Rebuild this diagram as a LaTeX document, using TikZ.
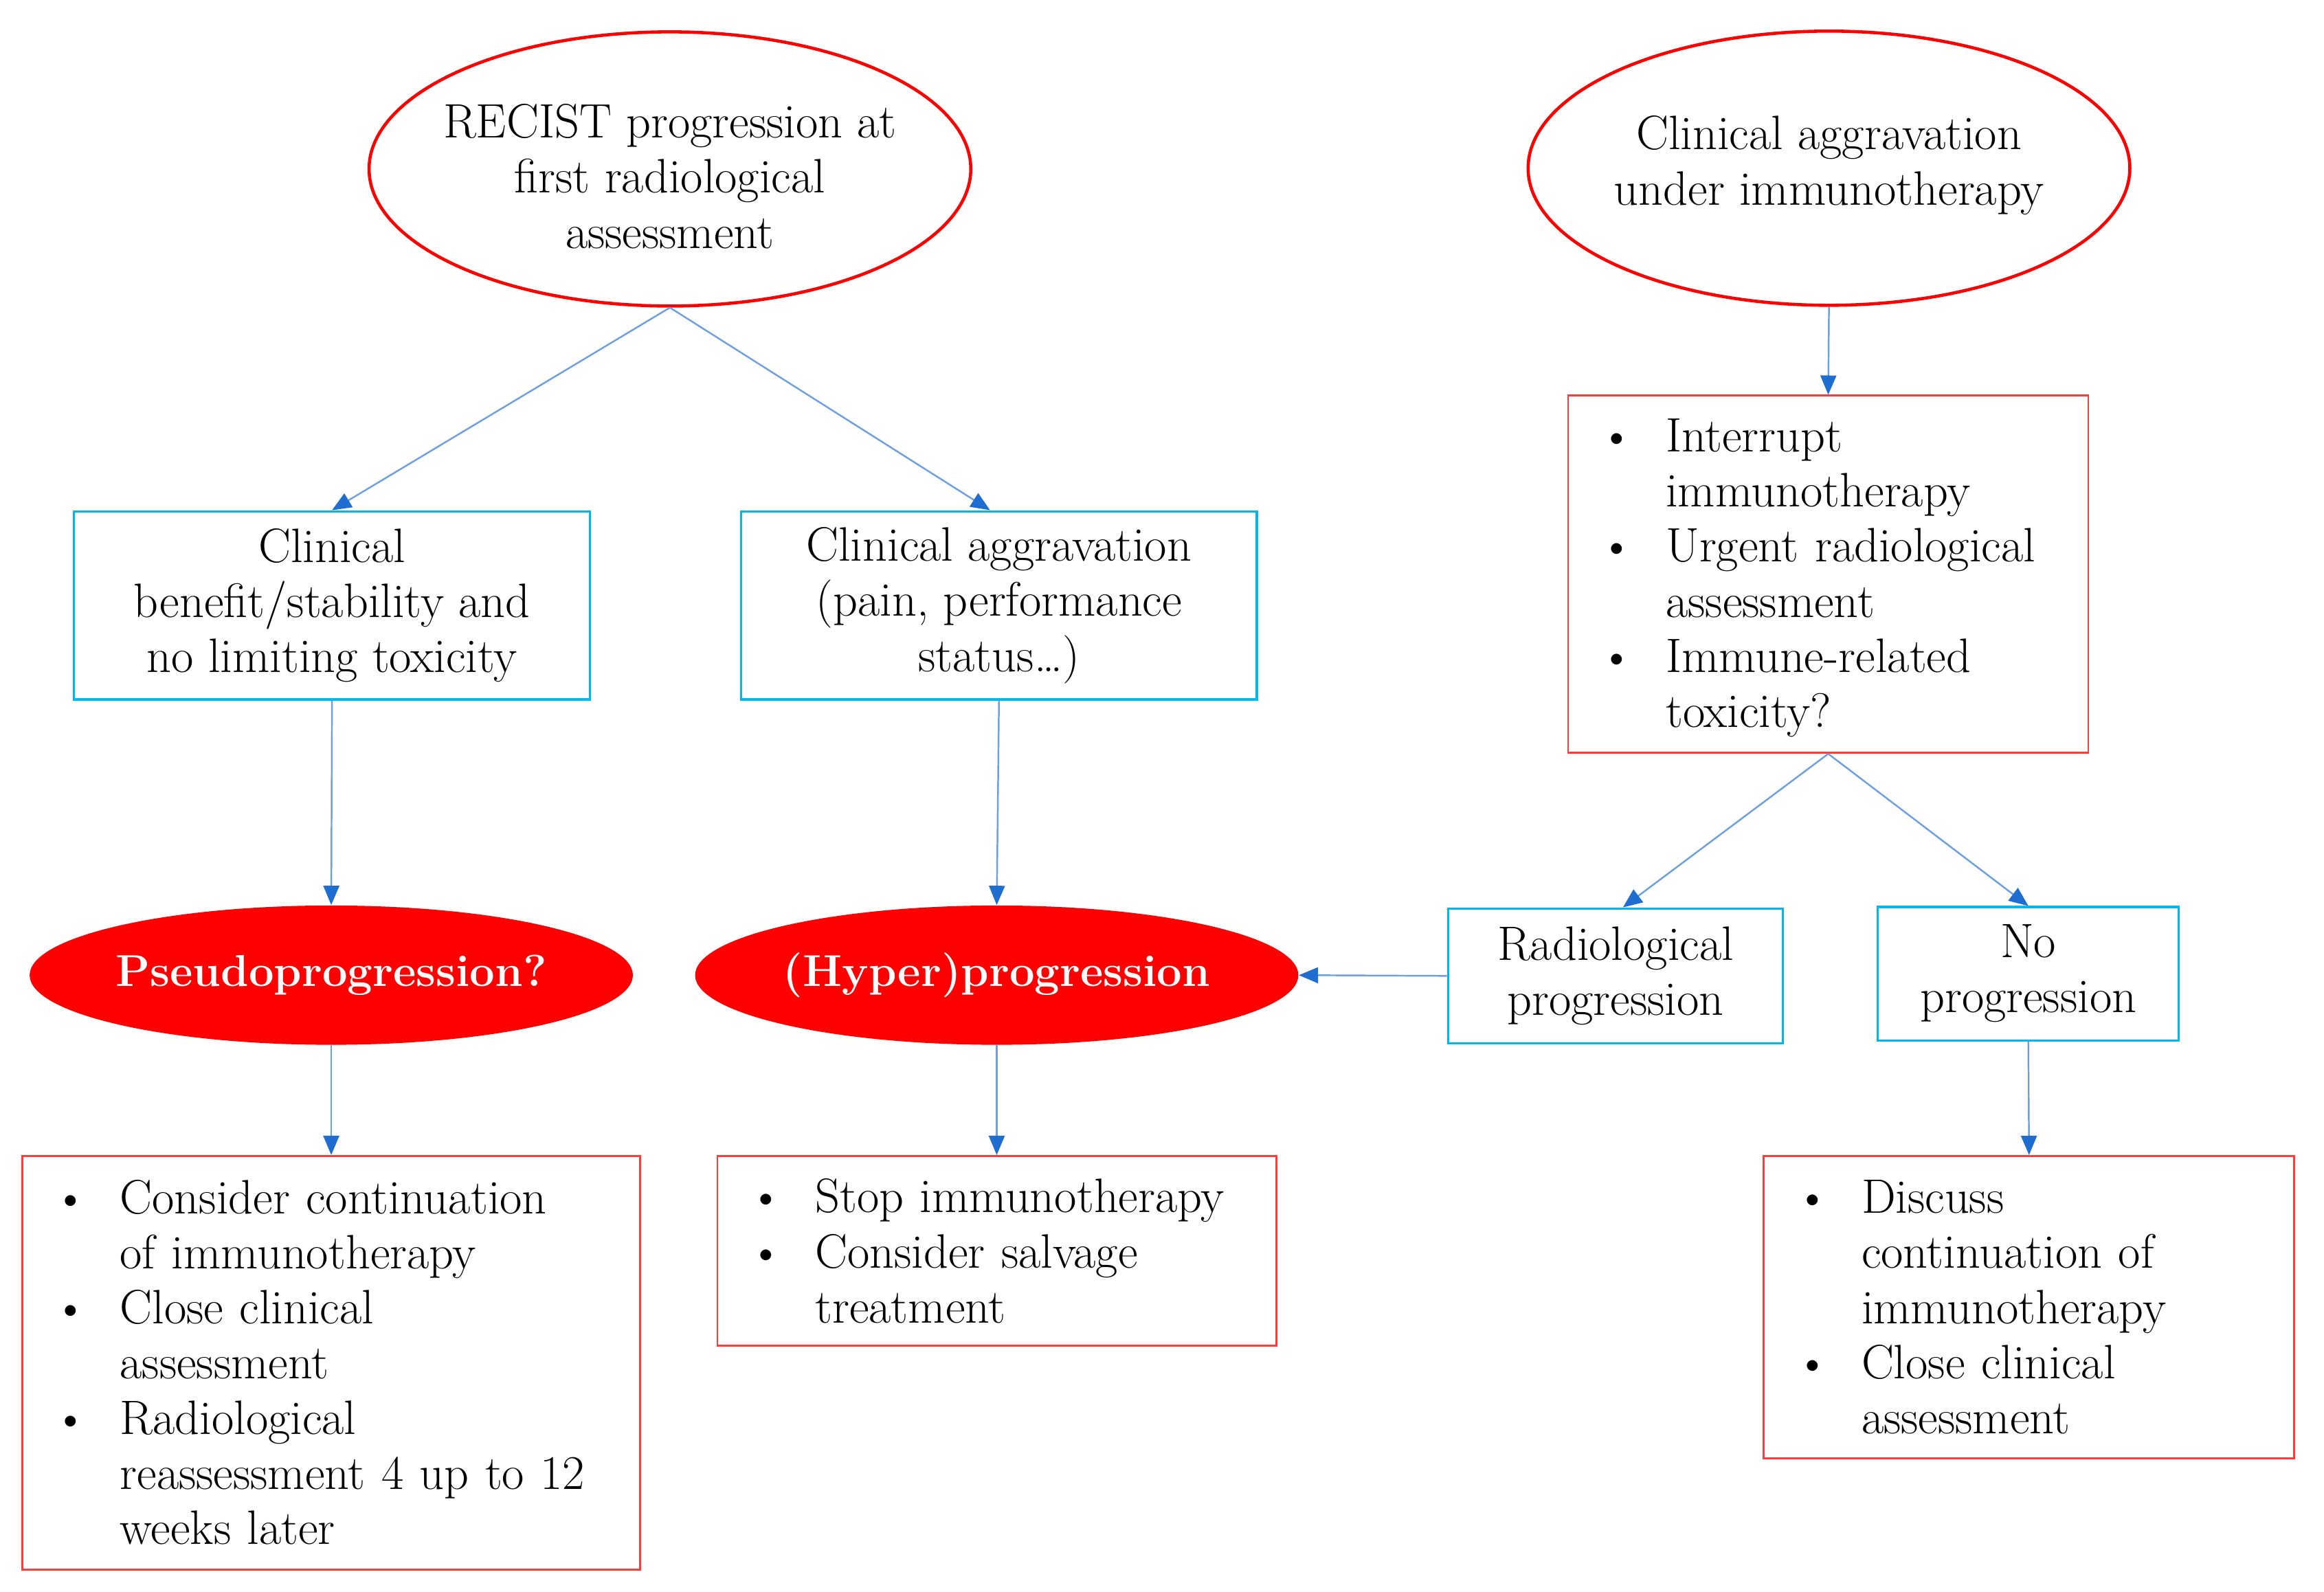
\documentclass[tikz,border=0pt]{standalone}
\usetikzlibrary{shapes.geometric,arrows.meta}
\newlength{\dpx}\setlength{\dpx}{0.21569mm}
\definecolor{ellred}{RGB}{255,0,0}
\definecolor{boxred}{RGB}{255,60,60}
\definecolor{boxcyan}{RGB}{0,184,240}
\definecolor{arrline}{RGB}{110,160,225}
\definecolor{arrhead}{RGB}{30,110,210}
\newcommand{\mainfs}{\fontsize{20}{22.8}\selectfont}
\newcommand{\bitem}[1]{\par\noindent\hangindent=45\dpx\hangafter=1\makebox[45\dpx][l]{\textbullet}#1\par}
\newcommand{\botpad}[1]{\par\hrule height #1\dpx depth 0pt width 0pt}
\begin{document}
\begin{tikzpicture}[x=\dpx,y=-\dpx,
  ellout/.style={ellipse, draw=ellred, line width=1.3pt, fill=white, inner sep=0pt,
    minimum width=406\dpx, minimum height=185\dpx},
  elltext/.style={align=center, inner sep=0pt, font=\mainfs},
  ellfill/.style={ellipse, fill=ellred, draw=none, inner sep=0pt,
    minimum width=407\dpx, minimum height=94\dpx},
  filltext/.style={inner sep=0pt, text=white, font=\fontsize{18.5}{22.8}\selectfont\bfseries},
  cbox/.style={draw=boxcyan, line width=0.9pt, align=center, inner sep=0pt, font=\mainfs},
  rbox/.style={draw=boxred, line width=0.8pt, align=left, inner xsep=21\dpx, inner ysep=0pt, font=\mainfs},
  arr/.style={draw=arrline, line width=0.7pt, -{Triangle[length=2.8mm,width=2.3mm,color=arrhead]}}
]
\useasboundingbox (0,0) rectangle (1568,1073.8);

% top ellipses
\node[ellout] (e1) at (452,114) {};
\node[elltext] (e1t) at (452,119) {RECIST progression at\\first radiological\\assessment};
\node[ellout] (e2) at (1234,113.5) {};
\node[elltext] (e2t) at (1234,111.5) {Clinical aggravation\\under immunotherapy};

% cyan boxes
\node[cbox, minimum width=348\dpx, minimum height=127\dpx] (bA) at (224,408.5)
  {Clinical\\benefit/stability and\\no limiting toxicity};
\node[cbox, minimum width=348\dpx, minimum height=127\dpx] (bB) at (674,408.5)
  {Clinical aggravation\\(pain, performance\\status…)};
\node[cbox, minimum width=226\dpx, minimum height=91\dpx] (bD) at (1090,658.5)
  {Radiological\\progression};
\node[cbox, minimum width=203\dpx, minimum height=90\dpx] (bE) at (1368.5,657)
  {No\\progression};

% red bullet boxes
\node[rbox, text width=309\dpx, minimum height=241\dpx] (bC) at (1233.5,387.5)
  {\bitem{Interrupt\newline immunotherapy}\bitem{Urgent radiological\newline assessment}\bitem{Immune-related\newline toxicity?}\botpad{10}};
\node[rbox, text width=375\dpx, minimum height=279\dpx] (bF) at (223.5,919.5)
  {\bitem{Consider continuation\newline of immunotherapy}\bitem{Close clinical\newline assessment}\bitem{Radiological\newline reassessment 4 up to 12\newline weeks later}\botpad{15}};
\node[rbox, text width=335\dpx, minimum height=128\dpx] (bG) at (672.5,844)
  {\bitem{Stop immunotherapy}\bitem{Consider salvage\newline treatment}\botpad{14}};
\node[rbox, text width=316\dpx, minimum height=204\dpx] (bH) at (1369,882)
  {\bitem{Discuss\newline continuation of\newline immunotherapy}\bitem{Close clinical\newline assessment}\botpad{15}};

% filled ellipses
\node[ellfill] (e3) at (223.5,658) {};
\node[filltext] (e3t) at (223.5,658) {Pseudoprogression?};
\node[ellfill] (e4) at (672.5,658) {};
\node[filltext] (e4t) at (672.5,658) {(Hyper)progression};

% connectors
\draw[arr] (e1.south) -- (bA.north);
\draw[arr] (e1.south) -- ([xshift=-6\dpx]bB.north);
\draw[arr] (e2.south) -- (bC.north);
\draw[arr] (bA.south) -- (e3.north);
\draw[arr] (bB.south) -- (e4.north);
\draw[arr] (bC.south) -- ([xshift=5\dpx]bD.north);
\draw[arr] (bC.south) -- (bE.north);
\draw[arr] (bD.west) -- (e4.east);
\draw[arr] (e3.south) -- (bF.north);
\draw[arr] (e4.south) -- (bG.north);
\draw[arr] (bE.south) -- (bH.north);
\end{tikzpicture}
\end{document}
